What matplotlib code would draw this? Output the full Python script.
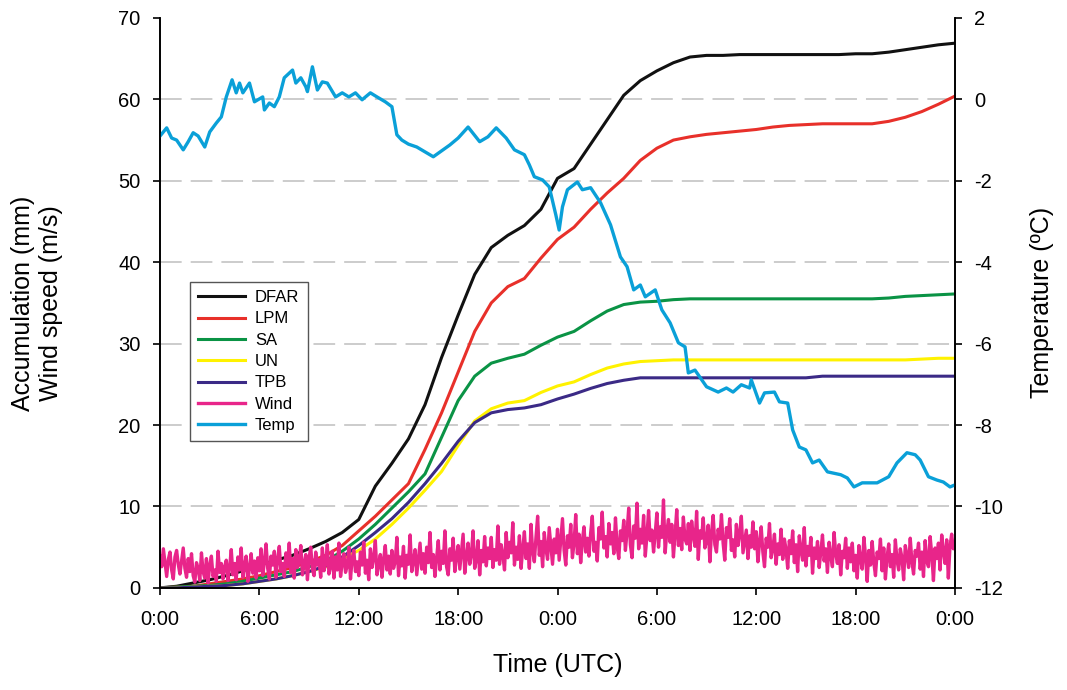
import matplotlib
matplotlib.use('Agg')
import matplotlib.pyplot as plt
import numpy as np

plt.rcParams['font.family'] = ['Liberation Sans', 'DejaVu Sans']
plt.rcParams['axes.unicode_minus'] = False

# accumulation curves (mm), hourly
hours = np.arange(0, 49)
dfar = [0, 0.2, 0.6, 1.0, 1.5, 2.1, 2.8, 3.4, 4.0, 4.8, 5.7, 6.8, 8.4, 12.5, 15.3, 18.3,
        22.5, 28.3, 33.5, 38.5, 41.8, 43.3, 44.5, 46.5, 50.3, 51.5, 54.5, 57.5, 60.5, 62.3,
        63.5, 64.5, 65.2, 65.4, 65.4, 65.5, 65.5, 65.5, 65.5, 65.5, 65.5, 65.5, 65.6, 65.6,
        65.8, 66.1, 66.4, 66.7, 66.9]
lpm = [0, 0.1, 0.2, 0.5, 0.8, 1.1, 1.5, 2.0, 2.5, 3.2, 4.0, 5.2, 7.0, 8.8, 10.8, 12.8,
       17.0, 21.5, 26.5, 31.5, 35.0, 37.0, 38.0, 40.5, 42.8, 44.3, 46.5, 48.5, 50.3, 52.5,
       54.0, 55.0, 55.4, 55.7, 55.9, 56.1, 56.3, 56.6, 56.8, 56.9, 57.0, 57.0, 57.0, 57.0,
       57.3, 57.8, 58.5, 59.4, 60.4]
sa = [0, 0.1, 0.2, 0.3, 0.5, 0.8, 1.2, 1.6, 2.0, 2.6, 3.3, 4.5, 6.0, 7.8, 9.8, 11.8,
      14.0, 18.5, 23.0, 26.0, 27.6, 28.2, 28.7, 29.8, 30.8, 31.5, 32.8, 34.0, 34.8, 35.1,
      35.2, 35.4, 35.5, 35.5, 35.5, 35.5, 35.5, 35.5, 35.5, 35.5, 35.5, 35.5, 35.5, 35.5,
      35.6, 35.8, 35.9, 36.0, 36.1]
un = [0, 0, 0.1, 0.2, 0.3, 0.5, 0.8, 1.1, 1.5, 2.0, 2.6, 3.6, 4.6, 6.0, 7.8, 9.8,
      12.0, 14.3, 17.5, 20.5, 22.0, 22.7, 23.0, 24.0, 24.8, 25.3, 26.2, 27.0, 27.5, 27.8,
      27.9, 28.0, 28.0, 28.0, 28.0, 28.0, 28.0, 28.0, 28.0, 28.0, 28.0, 28.0, 28.0, 28.0,
      28.0, 28.0, 28.1, 28.2, 28.2]
tpb = [0, 0, 0.1, 0.2, 0.3, 0.5, 0.8, 1.1, 1.5, 2.0, 2.7, 3.8, 5.2, 6.8, 8.5, 10.5,
       12.8, 15.3, 18.0, 20.3, 21.5, 21.9, 22.1, 22.5, 23.2, 23.8, 24.5, 25.1, 25.5, 25.8,
       25.8, 25.8, 25.8, 25.8, 25.8, 25.8, 25.8, 25.8, 25.8, 25.8, 26.0, 26.0, 26.0, 26.0,
       26.0, 26.0, 26.0, 26.0, 26.0]

# wind speed (m/s), every 0.1 h
wind_t = np.arange(0, 481) * 0.1
wind = [3.9, 2.6, 4.8, 3.1, 1.4, 3.5, 4.4, 2.2, 1.1, 3.8, 4.6, 2.9, 1.7, 3.3, 4.9, 2.4, 1.3, 3.6, 2.0, 4.2,
        1.5, 0.7, 3.1, 2.4, 0.9, 4.3, 2.0, 1.2, 3.6, 0.6, 2.8, 3.9, 1.4, 2.2, 0.8, 4.5, 1.9, 3.0, 1.1, 2.6,
        3.4, 0.9, 2.5, 4.7, 1.6, 3.0, 1.0, 3.8, 2.2, 4.9, 1.3, 2.7, 3.9, 0.8, 2.4, 4.2, 1.8, 3.3, 1.2, 3.7,
        2.1, 4.8, 1.5, 3.2, 5.4, 2.4, 1.1, 3.9, 2.8, 4.5, 1.3, 3.5, 5.1, 2.0, 3.0, 1.4, 4.3, 2.6, 5.5, 1.9,
        3.6, 1.2, 4.7, 2.5, 3.3, 5.2, 1.6, 2.9, 4.1, 1.0, 3.7, 5.0, 2.3, 1.5, 4.4, 2.8, 3.5, 1.3, 4.9, 2.1,
        3.0, 5.3, 1.7, 2.6, 4.5, 1.2, 3.8, 2.2, 5.5, 1.4, 3.1, 4.2, 1.9, 2.7, 5.0, 1.1, 3.6, 4.6, 2.0, 3.2,
        1.5, 4.4, 2.8, 5.6, 1.8, 3.4, 1.0, 4.8, 2.5, 3.7, 5.8, 1.6, 2.9, 4.1, 1.3, 3.5, 5.2, 2.2, 3.9, 1.7,
        4.6, 2.4, 3.2, 6.2, 1.5, 3.8, 2.7, 5.1, 1.2, 4.0, 2.9, 6.5, 2.0, 3.3, 4.7, 1.6, 3.6, 5.5, 2.3, 4.2,
        1.8, 5.0, 3.1, 6.8, 2.5, 4.1, 1.4, 3.7, 5.8, 2.2, 4.5, 3.0, 7.0, 2.6, 1.6, 4.8, 3.4, 6.1, 2.0, 3.9,
        5.2, 2.3, 4.4, 6.6, 1.8, 3.8, 5.5, 2.9, 4.1, 7.0, 2.4, 3.5, 5.8, 1.6, 4.6, 3.2, 6.3, 2.7, 4.9, 3.6,
        6.2, 2.5, 4.7, 3.4, 7.6, 2.9, 5.3, 4.0, 2.2, 6.8, 3.7, 5.6, 4.3, 8.0, 2.8, 5.0, 3.5, 6.4, 2.4, 4.8,
        6.9, 3.6, 5.4, 2.4, 7.8, 4.5, 3.2, 6.2, 8.8, 4.0, 5.7, 2.6, 6.8, 4.8, 3.5, 7.4, 5.1, 2.9, 6.0, 4.3,
        7.2, 3.4, 5.9, 8.5, 4.6, 2.8, 6.4, 5.0, 7.8, 3.7, 5.5, 9.0, 4.2, 6.6, 3.1, 5.8, 7.5, 4.4, 6.1, 3.9,
        6.7, 8.8, 4.5, 5.6, 3.3, 7.4, 6.0, 9.3, 4.9, 6.3, 3.8, 7.9, 5.4, 6.8, 4.2, 8.6, 5.1, 3.6, 7.0, 5.8,
        8.3, 4.6, 6.9, 9.8, 5.3, 3.7, 7.6, 6.1, 10.4, 4.8, 7.2, 5.5, 8.9, 3.9, 6.4, 9.5, 5.8, 7.1, 4.4, 6.7,
        9.2, 5.0, 7.5, 6.2, 10.8, 4.3, 6.9, 8.4, 5.6, 7.8, 3.8, 6.6, 9.6, 5.2, 7.3, 4.7, 8.7, 6.0, 5.4, 7.9,
        4.6, 8.2, 6.4, 5.1, 9.4, 3.5, 7.0, 6.1, 8.6, 4.9, 5.8, 7.7, 3.2, 6.8, 8.9, 5.3, 4.4, 7.2, 6.0, 9.0,
        5.5, 3.4, 7.4, 6.2, 8.5, 4.6, 5.9, 3.8, 7.8, 5.2, 6.6, 8.8, 4.3, 5.7, 7.1, 3.6, 6.4, 5.0, 8.1, 4.8,
        6.9, 3.2, 5.6, 7.5, 4.4, 2.6, 6.1, 5.0, 7.9, 3.7, 4.8, 6.6, 2.9, 5.4, 4.1, 7.2, 3.5, 6.0, 4.7, 2.4,
        5.8, 4.2, 7.0, 3.1, 5.3, 2.0, 6.4, 4.6, 3.4, 7.4, 2.7, 5.1, 4.0, 6.2, 1.8, 4.9, 3.6, 5.7, 2.5, 4.4,
        6.5, 3.3, 4.8, 1.9, 5.6, 3.9, 2.6, 6.8, 4.2, 3.0, 5.3, 1.6, 4.5, 3.7, 6.1, 2.4, 4.9, 3.2, 5.5, 2.1,
        4.0, 1.2, 5.2, 3.5, 2.3, 6.2, 3.9, 0.8, 4.6, 2.8, 5.7, 3.1, 1.5, 4.4, 3.6, 6.0, 2.1, 4.9, 1.1, 3.8,
        5.4, 2.6, 4.1, 1.3, 5.9, 3.4, 2.2, 4.8, 3.7, 1.0, 5.2, 4.0, 2.5, 6.1, 3.2, 1.7, 4.6, 3.9, 5.5, 2.3,
        4.4, 1.4, 5.8, 3.3, 2.6, 6.3, 4.1, 0.9, 4.9, 3.6, 5.5, 2.2, 6.5, 4.5, 3.0, 5.9, 1.2, 5.1, 6.6, 4.8,
        5.6]

# temperature (ºC)
temp_t = [0, 0.4, 0.7, 1.0, 1.4, 1.7, 2.0, 2.3, 2.7, 3.0, 3.4, 3.7, 4.0, 4.35, 4.6, 4.8,
          5.0, 5.4, 5.7, 6.2, 6.3, 6.6, 6.9, 7.2, 7.5, 8.0, 8.2, 8.5, 8.8, 8.9, 9.2, 9.5,
          9.8, 10.1, 10.6, 11.0, 11.4, 11.8, 12.2, 12.7, 13.1, 13.6, 14.0, 14.3, 14.6, 15.0,
          15.5, 16.5, 17.5, 18.0, 18.6, 19.3, 19.8, 20.3, 20.9, 21.4, 22.0, 22.3, 22.6, 23.1,
          23.5, 23.9, 24.1, 24.3, 24.6, 25.2, 25.5, 26.0, 26.6, 27.2, 27.8, 28.2, 28.6, 29.0,
          29.3, 29.9, 30.3, 30.8, 31.3, 31.7, 31.9, 32.3, 33.0, 33.7, 34.2, 34.6, 35.1, 35.6,
          35.7, 36.2, 36.5, 37.1, 37.4, 37.9, 38.2, 38.6, 39.0, 39.4, 39.8, 40.3, 41.1, 41.5,
          41.9, 42.4, 43.3, 44.0, 44.5, 45.1, 45.6, 45.9, 46.4, 46.9, 47.3, 47.7, 48.0]
temp = [-0.90, -0.70, -0.95, -1.00, -1.24, -1.04, -0.82, -0.90, -1.17, -0.80, -0.58, -0.43,
        0.06, 0.48, 0.16, 0.40, 0.16, 0.40, -0.06, 0.06, -0.26, -0.09, -0.18, 0.06, 0.53,
        0.72, 0.40, 0.53, 0.31, 0.19, 0.80, 0.23, 0.43, 0.40, 0.06, 0.16, 0.06, 0.16, -0.01,
        0.16, 0.06, -0.06, -0.18, -0.87, -1.00, -1.10, -1.17, -1.41, -1.12, -0.95, -0.68,
        -1.04, -0.92, -0.70, -0.95, -1.24, -1.36, -1.61, -1.90, -1.98, -2.15, -2.84, -3.21,
        -2.64, -2.22, -2.03, -2.22, -2.17, -2.54, -3.08, -3.87, -4.11, -4.68, -4.56, -4.85,
        -4.68, -5.17, -5.49, -5.98, -6.08, -6.72, -6.65, -7.06, -7.19, -7.09, -7.19, -7.01,
        -7.09, -6.89, -7.46, -7.21, -7.19, -7.43, -7.46, -8.12, -8.54, -8.61, -8.93, -8.86,
        -9.15, -9.22, -9.30, -9.52, -9.42, -9.42, -9.27, -8.93, -8.68, -8.73, -8.86, -9.27,
        -9.35, -9.40, -9.52, -9.47]

xticks = np.arange(0, 49, 6)
xticklabels = ['0:00', '6:00', '12:00', '18:00', '0:00', '6:00', '12:00', '18:00', '0:00']

fig, ax = plt.subplots(figsize=(10.67, 6.9), dpi=100)
fig.subplots_adjust(left=0.150, right=0.895, top=0.974, bottom=0.148)

lw = 2.2
l1, = ax.plot(hours, dfar, color='#111111', lw=lw, label='DFAR')
l2, = ax.plot(hours, lpm, color='#e8302a', lw=lw, label='LPM')
l3, = ax.plot(hours, sa, color='#0a9345', lw=lw, label='SA')
l4, = ax.plot(hours, un, color='#fff200', lw=lw, label='UN')
l5, = ax.plot(hours, tpb, color='#3b2a86', lw=lw, label='TPB')
l6, = ax.plot(wind_t, wind, color='#e8258a', lw=2.4, label='Wind')

ax.set_xlim(0, 48)
ax.set_ylim(0, 70)
ax.set_xticks(xticks)
ax.set_xticklabels(xticklabels)
ax.set_yticks(np.arange(0, 71, 10))
for v in range(10, 70, 10):
    ax.axhline(v, color='#c8c8c8', lw=1.3, ls=(0, (12, 5)), zorder=0)
ax.spines['top'].set_visible(False)
ax.tick_params(direction='out', length=5, width=1.2, labelsize=14.5)
ax.tick_params(axis='x', pad=11)
ax.tick_params(axis='y', pad=9)
ax.set_xlabel('Time (UTC)', fontsize=18)
ax.set_ylabel('Accumulation (mm)\nWind speed (m/s)', fontsize=18)
ax.xaxis.set_label_coords(0.5, -0.115)
ax.yaxis.set_label_coords(-0.122, 0.5)

ax2 = ax.twinx()
l7, = ax2.plot(temp_t, temp, color='#0aa0d8', lw=2.4, label='Temp')
ax2.set_ylim(-12, 2)
ax2.set_yticks(np.arange(-12, 3, 2))
ax2.spines['top'].set_visible(False)
ax2.tick_params(direction='out', length=5, width=1.2, labelsize=14.5, pad=9)
ax2.set_ylabel('Temperature (ºC)', fontsize=18)
ax2.yaxis.set_label_coords(1.095, 0.5)

for a in (ax, ax2):
    for s in a.spines.values():
        s.set_linewidth(1.2)

leg = ax2.legend(handles=[l1, l2, l3, l4, l5, l6, l7], loc='upper left',
                 bbox_to_anchor=(0.0377, 0.537), borderaxespad=0, fontsize=12,
                 fancybox=False, handlelength=2.8, handletextpad=0.6,
                 labelspacing=0.38, borderpad=0.5, framealpha=1)
leg.get_frame().set_edgecolor('#555555')
leg.get_frame().set_linewidth(1.0)

fig.savefig('out.png', dpi=100)
